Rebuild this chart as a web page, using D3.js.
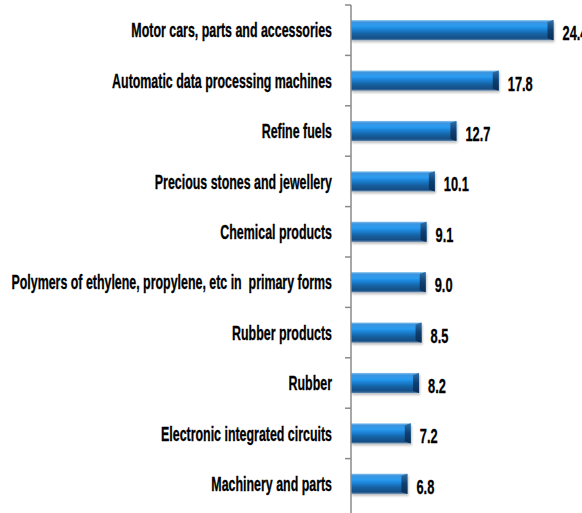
<!DOCTYPE html>
<html><head><meta charset="utf-8">
<script src="https://cdn.jsdelivr.net/npm/d3@7"></script>
<style>
html,body{margin:0;padding:0;background:#fff;overflow:hidden}
text{font-family:'Liberation Sans',Arial,sans-serif;font-weight:bold;fill:#000;stroke:#000;stroke-width:0.3px}
</style></head><body>
<svg id="chart" width="582" height="513"></svg>
<script>
const categories = [
  "Motor cars, parts and accessories",
  "Automatic data processing machines",
  "Refine fuels",
  "Precious stones and jewellery",
  "Chemical products",
  "Polymers of ethylene, propylene, etc in  primary forms",
  "Rubber products",
  "Rubber",
  "Electronic integrated circuits",
  "Machinery and parts"
];
const values = [24.4, 17.8, 12.7, 10.1, 9.1, 9.0, 8.5, 8.2, 7.2, 6.8];
const valueLabels = ["24.4", "17.8", "12.7", "10.1", "9.1", "9.0", "8.5", "8.2", "7.2", "6.8"];

const svg = d3.select("#chart");
const axisX = 351, plotTop = 5, plotBottom = 509;

const x = d3.scaleLinear().domain([0, 30]).range([axisX, axisX + 249]);
const y = d3.scaleBand().domain(categories).range([plotTop, plotBottom]).paddingInner(0.6).paddingOuter(0.3);
const yTicks = d3.scaleBand().domain(categories).range([plotTop, plotBottom]);

const defs = svg.append("defs");
const g = defs.append("linearGradient").attr("id","barGrad").attr("x1",0).attr("y1",0).attr("x2",0).attr("y2",1);
[[0,"#8cc4ee"],[0.1,"#3a94df"],[0.3,"#2a9cf0"],[0.45,"#1c84d8"],[0.7,"#155f9e"],[0.9,"#174f86"],[1,"#5f86ad"]]
  .forEach(([o,c]) => g.append("stop").attr("offset",o).attr("stop-color",c));
const ge = defs.append("linearGradient").attr("id","endGrad").attr("x1",0).attr("y1",0).attr("x2",0).attr("y2",1);
[[0,"#2f6fa8"],[0.5,"#0f3f70"],[1,"#0a2e55"]].forEach(([o,c]) => ge.append("stop").attr("offset",o).attr("stop-color",c));
const f = defs.append("filter").attr("id","shadow").attr("x","-5%").attr("y","-20%").attr("width","115%").attr("height","160%");
f.append("feDropShadow").attr("dx",1).attr("dy",2).attr("stdDeviation",1.2).attr("flood-color","#000").attr("flood-opacity",0.25);

// bars
const bars = svg.append("g").selectAll("g").data(values).join("g");
bars.append("rect")
  .attr("x", axisX)
  .attr("y", (d,i) => y(categories[i]))
  .attr("width", d => x(d) - axisX)
  .attr("height", y.bandwidth())
  .attr("fill","url(#barGrad)")
  .attr("filter","url(#shadow)");
bars.append("path")
  .attr("d", (d,i) => {
    const x1 = x(d), y0 = y(categories[i]), h = y.bandwidth();
    return `M${x1-6},${y0+2} L${x1},${y0} L${x1},${y0+h} L${x1-6},${y0+h-2} Z`;
  })
  .attr("fill","url(#endGrad)");

// axis
const ag = svg.append("g").attr("transform", `translate(${axisX},0)`);
const tickYs = categories.map(c => yTicks(c));
ag.append("line").attr("x1",0).attr("x2",0).attr("y1",plotTop).attr("y2",plotBottom+4).attr("stroke","#8a8a8a").attr("stroke-width",1.5);
ag.selectAll("line.tk").data(tickYs).join("line").attr("class","tk")
  .attr("x1",-6).attr("x2",0).attr("y1",d=>d).attr("y2",d=>d).attr("stroke","#8a8a8a").attr("stroke-width",1.5);

// category labels (condensed horizontally)
const catFont = 20;
const catG = svg.append("g");
const catTexts = catG.selectAll("text").data(categories).join("text")
  .attr("text-anchor","end")
  .style("font-size", catFont + "px")
  .style("white-space","pre")
  .text(c => c);
const refLen = catTexts.filter((d,i) => i === 5).node().getComputedTextLength();
const kCat = 321 / refLen;
catTexts.attr("transform", c => `translate(${axisX - 19},${yTicks(c) + yTicks.bandwidth()/2 + catFont*0.36}) scale(${kCat},1)`);

// value labels
const valFont = 20;
const valTexts = svg.append("g").selectAll("text").data(values).join("text")
  .style("font-size", valFont + "px")
  .text((d,i) => valueLabels[i]);
const vLen = valTexts.filter((d,i) => i === 1).node().getComputedTextLength();
const kVal = 25 / vLen;
valTexts.attr("transform", (d,i) => `translate(${x(d) + 9},${y(categories[i]) + y.bandwidth()/2 + 10}) scale(${kVal},1)`);
</script>
</body></html>
